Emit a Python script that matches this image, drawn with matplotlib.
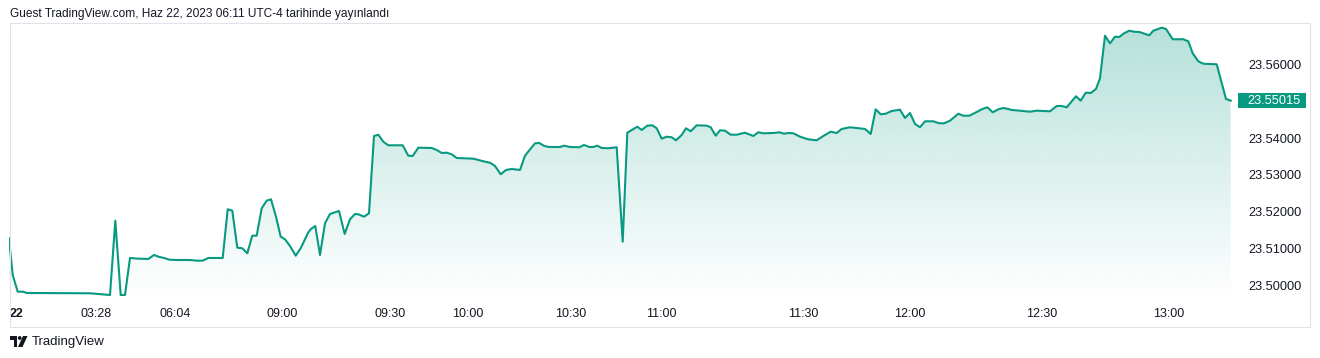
import matplotlib
matplotlib.use("Agg")
import matplotlib.pyplot as plt
import numpy as np
from matplotlib.transforms import Affine2D
from matplotlib.patches import Rectangle, Polygon, Circle

# ---------------- data ----------------
bar = [
    0, 3.7, 8.7, 14.3, 17.7, 81, 101, 106.3, 111.7, 116,
    121, 129.3, 139.3, 145, 150.3, 155, 160.3, 167.7, 181, 187.7,
    193.7, 199.3, 213.7, 218.7, 223.3, 228.3, 233.3, 238.3, 243.3, 247.7,
    252.7, 257.7, 262, 267, 271.7, 276, 281, 286.7, 292, 299.3,
    302, 306.3, 311, 316, 321, 330, 335.7, 341, 346, 349.3,
    355, 360, 365, 369.3, 374.3, 379.3, 393.7, 399.3, 403.7, 409.3,
    422.7, 427.7, 432.7, 437.7, 442.7, 447.7, 464.3, 469.3, 476, 481,
    486, 491.7, 497, 502.7, 511, 516, 526, 530.3, 535.3, 540.3,
    551, 555, 561, 570.3, 575, 580.3, 584.3, 588.3, 592.7, 599.3,
    607.7, 613.7, 618.3, 623.3, 628.3, 632.7, 638.3, 643.3, 647.7, 652.7,
    657.7, 662.7, 667, 672.7, 677, 681.7, 687.7, 697.7, 701.7, 706.7,
    711, 716, 721.7, 727.7, 736, 744.3, 749.3, 754.3, 764.3, 770.3,
    775, 779.3, 784.3, 791, 799.3, 807.7, 814.3, 821.7, 827.7, 832.7,
    841, 847, 856, 861.7, 866.7, 871.7, 876.7, 882.7, 891, 896,
    901, 906, 911, 916, 924.3, 930.3, 935, 941, 949.3, 954.3,
    960.3, 967.7, 972.7, 978.3, 983.7, 989.3, 994.3, 999.3, 1002.7, 1011,
    1021, 1027.7, 1041, 1047.7, 1052.7, 1057.7, 1067, 1071.7, 1076.7, 1081.7,
    1087, 1091, 1096, 1101, 1106, 1110.3, 1115, 1120.3, 1125, 1130.3,
    1140.3, 1144.3, 1152.7, 1157, 1163.7, 1174.3, 1179.3, 1183.7, 1189.3, 1194.3,
    1207.7, 1217, 1221.7,
]
price = [
    23.51285, 23.50290, 23.49837, 23.49837, 23.49802, 23.49794, 23.49748, 23.51762, 23.49748, 23.49748,
    23.50751, 23.50732, 23.50724, 23.50832, 23.50778, 23.50751, 23.50705, 23.50696, 23.50696, 23.50678,
    23.50678, 23.50751, 23.50751, 23.52070, 23.52033, 23.51030, 23.51014, 23.50878, 23.51355, 23.51355,
    23.52098, 23.52304, 23.52341, 23.51870, 23.51328, 23.51257, 23.51076, 23.50813, 23.51030, 23.51447,
    23.51537, 23.51618, 23.50832, 23.51691, 23.51943, 23.52024, 23.51401, 23.51799, 23.51943, 23.51935,
    23.51870, 23.51962, 23.54057, 23.54092, 23.53902, 23.53805, 23.53805, 23.53523, 23.53515, 23.53740,
    23.53732, 23.53678, 23.53596, 23.53604, 23.53561, 23.53461, 23.53442, 23.53407, 23.53360, 23.53333,
    23.53244, 23.53019, 23.53136, 23.53163, 23.53136, 23.53523, 23.53859, 23.53867, 23.53786, 23.53759,
    23.53759, 23.53794, 23.53759, 23.53751, 23.53813, 23.53759, 23.53759, 23.53794, 23.53732, 23.53724,
    23.53751, 23.51192, 23.54146, 23.54228, 23.54309, 23.54220, 23.54336, 23.54347, 23.54266, 23.53984,
    23.54038, 23.54022, 23.53940, 23.54084, 23.54266, 23.54184, 23.54347, 23.54336, 23.54293, 23.54065,
    23.54211, 23.54201, 23.54092, 23.54092, 23.54146, 23.54057, 23.54157, 23.54130, 23.54138, 23.54157,
    23.54119, 23.54138, 23.54130, 23.54038, 23.53967, 23.53940, 23.54057, 23.54173, 23.54138, 23.54247,
    23.54293, 23.54274, 23.54247, 23.54111, 23.54780, 23.54645, 23.54661, 23.54734, 23.54770, 23.54545,
    23.54680, 23.54382, 23.54293, 23.54455, 23.54455, 23.54401, 23.54401, 23.54472, 23.54661, 23.54607,
    23.54607, 23.54707, 23.54780, 23.54835, 23.54699, 23.54780, 23.54816, 23.54789, 23.54762, 23.54743,
    23.54715, 23.54743, 23.54726, 23.54870, 23.54870, 23.54835, 23.55133, 23.55014, 23.55230, 23.55222,
    23.55331, 23.55621, 23.56775, 23.56569, 23.56748, 23.56740, 23.56840, 23.56911, 23.56883, 23.56875,
    23.56786, 23.56911, 23.56992, 23.56957, 23.56678, 23.56678, 23.56623, 23.56298, 23.56081, 23.56016,
    23.56000, 23.55060, 23.55015,
]
tick_bars = [8, 87, 166, 273, 381, 459, 562, 652, 794, 901, 1033, 1160]
tick_labels = ["22", "03:28", "06:04", "09:00", "09:30", "10:00", "10:30",
               "11:00", "11:30", "12:00", "12:30", "13:00"]
price_ticks = [23.50, 23.51, 23.52, 23.53, 23.54, 23.56]
last_price = price[-1]
title = "Guest TradingView.com, Haz 22, 2023 06:11 UTC-4 tarihinde yayınlandı"

# ---------------- style ----------------
GREEN = "#089981"
TEXT = "#131722"
BORDER = "#e0e3eb"
FONT = ["Liberation Sans", "DejaVu Sans"]
plt.rcParams["font.family"] = FONT

W, H = 1320, 358
fig = plt.figure(figsize=(W / 100, H / 100), dpi=100)
fig.patch.set_facecolor("white")

# pixel transform (origin top-left)
PX = Affine2D().scale(1 / W, -1 / H).translate(0, 1) + fig.transFigure

# pane: x 9..1237, y 24..300
L, R, T, B = 9, 1237, 24, 300
ax = fig.add_axes([L / W, (H - B) / H, (R - L) / W, (B - T) / H])
ax.set_xlim(0, R - L)
ax.set_ylim(23.49612, 23.57092)
for s in ax.spines.values():
    s.set_visible(False)
ax.set_facecolor("none")

x = np.array(bar, dtype=float)
y = np.array(price, dtype=float)

# gradient fill
ymin, ymax = ax.get_ylim()
grad = np.linspace(0.30, 0.0, 256).reshape(-1, 1)
rgba = np.zeros((256, 1, 4))
rgba[..., 0] = 8 / 255
rgba[..., 1] = 153 / 255
rgba[..., 2] = 129 / 255
rgba[..., 3] = grad
poly = ax.fill_between(x, y, ymin, color="none", lw=0)
img = ax.imshow(rgba, aspect="auto", extent=[0, R - L, ymin, ymax],
                origin="upper", zorder=1, interpolation="bilinear")
path = poly.get_paths()[0]
img.set_clip_path(path, transform=ax.transData)
ax.set_xlim(0, R - L)
ax.set_ylim(ymin, ymax)

ax.plot(x, y, color=GREEN, lw=1.5, zorder=3, solid_joinstyle="round")

# x ticks
ax.set_xticks(tick_bars)
ax.set_xticklabels(tick_labels)
ax.tick_params(axis="x", length=0, pad=6, labelsize=9, labelcolor=TEXT)
ax.get_xticklabels()[0].set_fontweight("bold")

# y ticks on right
ax.yaxis.tick_right()
ax.set_yticks(price_ticks)
ax.set_yticklabels([f"{v:.5f}" for v in price_ticks])
ax.tick_params(axis="y", length=0, pad=8, labelsize=9.2, labelcolor=TEXT)

# last price label
yl = ax.transData.transform((0, last_price))[1]
yl_px = H - yl
fig.patches.append(Rectangle((1237.7, yl_px - 7.8), 68, 15.6, transform=PX,
                             facecolor=GREEN, edgecolor="none", zorder=5))
fig.text(1247.5 / W, 1 - yl_px / H, f"{last_price:.5f}", color="white",
         fontsize=9.2, va="center", ha="left", zorder=6)

# outer frame
fig.patches.append(Rectangle((9.5, 22.5), 1300, 304, transform=PX,
                             facecolor="none", edgecolor=BORDER, lw=0.8))

# title
fig.text(10 / W, 1 - 14 / H, title, fontsize=8.6, color=TEXT, va="center", ha="left")

# TradingView logo
logo_c = TEXT
fig.patches.append(Polygon([(10, 336), (17, 336), (17, 347), (13.5, 347),
                            (13.5, 339.5), (10, 339.5)], closed=True,
                           transform=PX, facecolor=logo_c, edgecolor="none"))
fig.patches.append(Circle((19.7, 338), 1.9, transform=PX, facecolor=logo_c,
                          edgecolor="none"))
fig.patches.append(Polygon([(23, 336), (27.5, 336), (22.5, 347), (18, 347)],
                           closed=True, transform=PX, facecolor=logo_c,
                           edgecolor="none"))
fig.text(32 / W, 1 - 341.5 / H, "TradingView", fontsize=9.5, color=TEXT,
         va="center", ha="left")

fig.savefig("out.png", dpi=100, facecolor="white")
